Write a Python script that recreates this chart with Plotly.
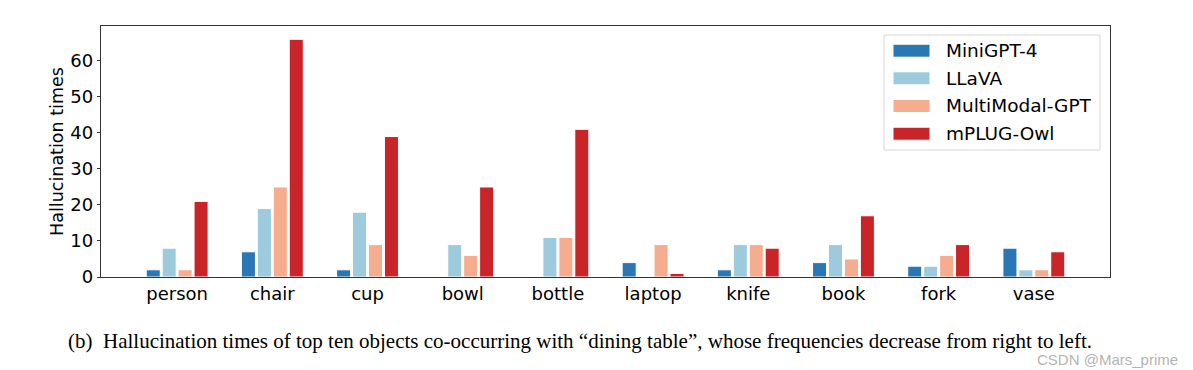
import plotly.graph_objects as go

categories = ["person", "chair", "cup", "bowl", "bottle", "laptop", "knife", "book", "fork", "vase"]
series_names = ["MiniGPT-4", "LLaVA", "MultiModal-GPT", "mPLUG-Owl"]
minigpt4 = [2, 7, 2, 0, 0, 4, 2, 4, 3, 8]
llava = [8, 19, 18, 9, 11, 0, 9, 9, 3, 2]
multimodal_gpt = [2, 25, 9, 6, 11, 9, 9, 5, 6, 2]
mplug_owl = [21, 66, 39, 25, 41, 1, 8, 17, 9, 7]
colors = ["#2a77b4", "#9dcadc", "#f6ac8e", "#c92428"]
y_ticks = [0, 10, 20, 30, 40, 50, 60]
y_title = "Hallucination times"
caption = "(b)\u00a0 Hallucination times of top ten objects co-occurring with \u201cdining table\u201d, whose frequencies decrease from right to left."
watermark = "CSDN @Mars_prime"

OFF = 8  # default page body margin
W, H = 1193 - OFF, 370 - OFF
# target plot area in window pixels
PX0, PX1, PY0, PY1 = 101, 1110, 26, 277
L, R, T, B = PX0 - OFF, W - (PX1 - OFF), PY0 - OFF, H - (PY1 - OFF)
pw, ph = W - L - R, H - T - B

def px_x(x):
    return (x - PX0) / pw

def px_y(y):
    return 1 - (y - PY0) / ph

fig = go.Figure()
values = [minigpt4, llava, multimodal_gpt, mplug_owl]
for name, vals, col in zip(series_names, values, colors):
    fig.add_trace(go.Bar(
        x=list(range(len(categories))), y=vals, name=name,
        marker=dict(color=col, line=dict(color="white", width=1)),
        showlegend=False,
    ))

font_main = "DejaVu Sans"
fig.update_layout(
    width=W, height=H,
    margin=dict(l=L, r=R, t=T, b=B, autoexpand=False),
    paper_bgcolor="white", plot_bgcolor="white",
    barmode="group", bargap=0.33, bargroupgap=0.12,
    font=dict(family=font_main, size=18, color="black"),
)
fig.update_xaxes(
    range=[-0.8, 9.8], tickmode="array",
    tickvals=list(range(len(categories))), ticktext=categories,
    showline=True, linecolor="#333333", linewidth=1.3, mirror=True,
    ticks="", showgrid=False, zeroline=False,
    tickfont=dict(family=font_main, size=18),
)
fig.update_yaxes(
    range=[0, 69.7], tickmode="array", tickvals=y_ticks,
    showline=True, linecolor="#333333", linewidth=1.3, mirror=True,
    ticks="outside", ticklen=3, tickcolor="#333333", showgrid=False, zeroline=False,
    tickfont=dict(family=font_main, size=18),
    title=dict(text=y_title, font=dict(family=font_main, size=17.5), standoff=2),
)

# Legend drawn manually (matplotlib style)
shapes = []
annotations = []
shapes.append(dict(type="rect", xref="paper", yref="paper",
                   x0=px_x(884), x1=px_x(1100), y0=px_y(150), y1=px_y(35),
                   line=dict(color="#d6d6d6", width=1), fillcolor="rgba(255,255,255,0.85)", layer="above"))
row_y = [50.7, 78.3, 106.0, 133.7]
for name, col, ry in zip(series_names, colors, row_y):
    shapes.append(dict(type="rect", xref="paper", yref="paper",
                       x0=px_x(893), x1=px_x(930), y0=px_y(ry + 6.5), y1=px_y(ry - 6.5),
                       line=dict(color="white", width=1), fillcolor=col, layer="above"))
    annotations.append(dict(xref="paper", yref="paper", x=px_x(944), y=px_y(ry),
                            text=name, showarrow=False, xanchor="left", yanchor="middle",
                            font=dict(family=font_main, size=18.5, color="black")))

annotations.append(dict(xref="paper", yref="paper", x=px_x(66), y=px_y(341),
                        text=caption, showarrow=False, xanchor="left", yanchor="middle",
                        font=dict(family="Liberation Serif", size=21, color="black")))
annotations.append(dict(xref="paper", yref="paper", x=px_x(1180), y=px_y(359),
                        text=watermark, showarrow=False, xanchor="right", yanchor="middle",
                        font=dict(family="Liberation Sans", size=15, color="#b4b4b4")))
fig.update_layout(shapes=shapes, annotations=annotations)

fig.write_html("out.html")
